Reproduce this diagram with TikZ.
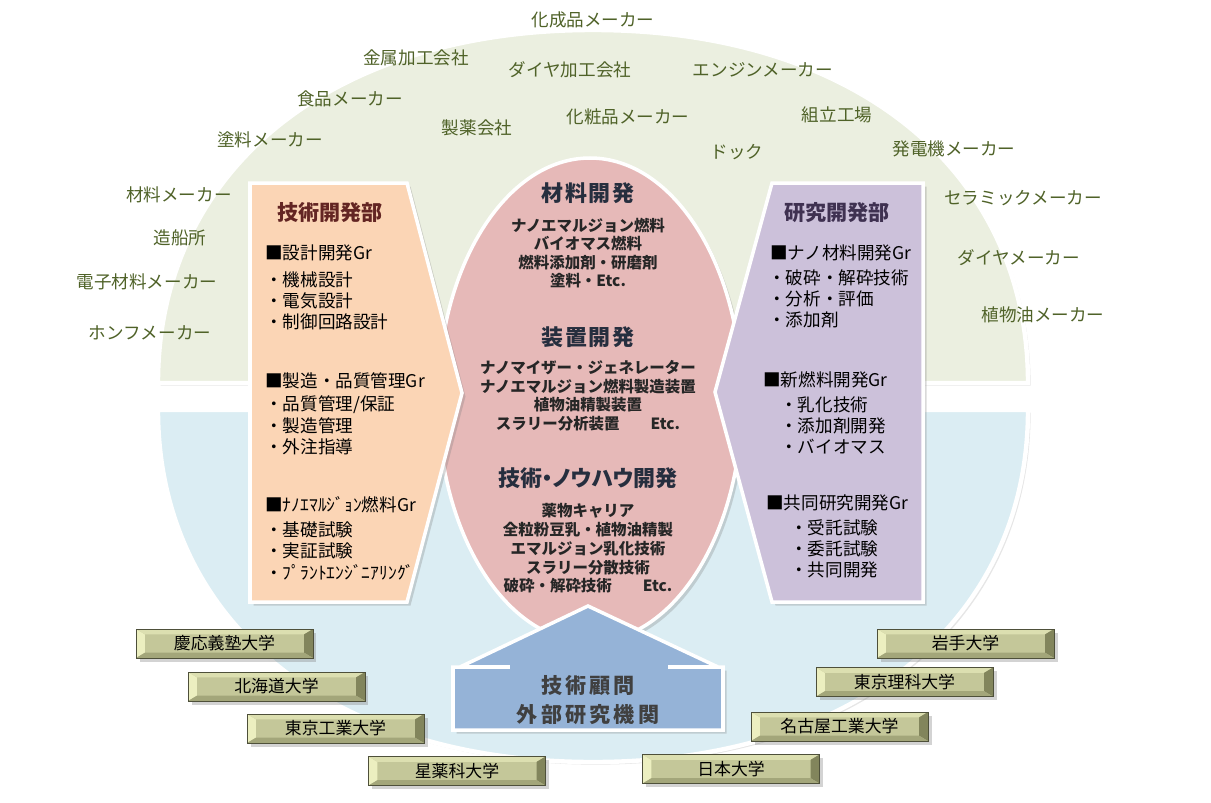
\documentclass[tikz,border=0pt]{standalone}
\usepackage{fontspec}
\setmainfont{Noto Sans CJK JP}
\usetikzlibrary{shadows}

\definecolor{upperfill}{RGB}{235,239,224}
\definecolor{lowerfill}{RGB}{219,237,243}
\definecolor{peach}{RGB}{251,213,181}
\definecolor{lavender}{RGB}{204,193,218}
\definecolor{rose}{RGB}{230,185,184}
\definecolor{houseblue}{RGB}{149,179,215}
\definecolor{makertext}{RGB}{79,98,40}
\definecolor{univfill}{RGB}{196,199,153}
\definecolor{univlight}{RGB}{236,239,192}
\definecolor{univdark}{RGB}{130,133,92}
\definecolor{univedge}{RGB}{78,80,58}
\definecolor{techtitle}{RGB}{99,37,35}
\definecolor{labtitle}{RGB}{63,49,81}
\definecolor{devtitle}{RGB}{38,46,62}

\tikzset{
  half/.style={draw=white, line width=2.5pt,
               drop shadow={shadow xshift=1.5pt, shadow yshift=-1.5pt, opacity=0.2}},
  panel/.style={draw=white, line width=2pt,
                drop shadow={shadow xshift=2pt, shadow yshift=-2pt, opacity=0.3}},
  maker/.style={font=\fontsize{10}{12}\selectfont, text=makertext, inner sep=1pt},
  dept/.style={font=\fontsize{12}{14}\selectfont\bfseries, inner sep=1pt},
  grp/.style={font=\fontsize{10}{12}\selectfont, anchor=west, inner sep=0pt},
  theme/.style={font={\fontsize{12.5}{14}\selectfont\bfseries\addfontfeature{LetterSpace=8}},
                text=devtitle, inner sep=1pt},
  topic/.style={font=\fontsize{8.8}{10}\selectfont\bfseries, text=black!85, inner sep=0pt},
  univ/.style={rectangle, draw=univedge, line width=0.5pt, fill=univfill,
               minimum width=3.54cm, minimum height=0.58cm, inner sep=0pt,
               font=\fontsize{9.6}{11}\selectfont,
               drop shadow={shadow xshift=2pt, shadow yshift=-2pt, opacity=0.35},
               path picture={
                 \fill[univlight] (path picture bounding box.north west)
                   -- (path picture bounding box.south west)
                   -- ([xshift=5pt,yshift=3pt]path picture bounding box.south west)
                   -- ([xshift=5pt,yshift=-3pt]path picture bounding box.north west) -- cycle;
                 \fill[univlight!60!univfill] (path picture bounding box.north west)
                   -- (path picture bounding box.north east)
                   -- ([xshift=-5pt,yshift=-3pt]path picture bounding box.north east)
                   -- ([xshift=5pt,yshift=-3pt]path picture bounding box.north west) -- cycle;
                 \fill[univdark] (path picture bounding box.north east)
                   -- (path picture bounding box.south east)
                   -- ([xshift=-5pt,yshift=3pt]path picture bounding box.south east)
                   -- ([xshift=-5pt,yshift=-3pt]path picture bounding box.north east) -- cycle;
                 \fill[univdark!50!univfill] (path picture bounding box.south west)
                   -- (path picture bounding box.south east)
                   -- ([xshift=-5pt,yshift=3pt]path picture bounding box.south east)
                   -- ([xshift=5pt,yshift=3pt]path picture bounding box.south west) -- cycle;
               }},
}

\begin{document}
\begin{tikzpicture}[x=0.02cm, y=-0.02cm]
  \useasboundingbox (0,0) rectangle (1211,802);

  % two halves of the round field
  \filldraw[half, fill=upperfill] (158,383) .. controls (158,173) and (328,30) .. (593,30)
    .. controls (858,30) and (1028,173) .. (1028,383) -- cycle;
  \filldraw[half, fill=lowerfill] (158,410) .. controls (158,619) and (328,762) .. (593,762)
    .. controls (858,762) and (1028,619) .. (1028,410) -- cycle;

  % customers
  \foreach \x/\y/\t [count=\i] in {593/20/化成品メーカー, 416/58/金属加工会社,
      570/70/ダイヤ加工会社, 763/70/エンジンメーカー, 350/99/食品メーカー,
      477/128/製薬会社, 628/117/化粧品メーカー, 837/115/組立工場, 737/152/ドック,
      270/140/塗料メーカー, 954/149/発電機メーカー, 179/195/材料メーカー,
      1023/198/セラミックメーカー, 180/238/造船所, 1019/258/ダイヤメーカー,
      147/282/電子材料メーカー, 1043/315/植物油メーカー, 150/333/ホンフメーカー}
    \node[maker] (mk\i) at (\x,\y) {\t};

  % centre, departments, advisors
  \filldraw[panel, fill=rose] (590,400) ellipse [x radius=152, y radius=242];
  \filldraw[panel, fill=peach] (250,183) -- (407,183) -- (462,393) -- (407,602)
    -- (250,602) -- cycle;
  \filldraw[panel, fill=lavender] (715,392) -- (772,183) -- (923,183) -- (923,602)
    -- (772,602) -- cycle;
  \filldraw[panel, fill=houseblue] (453,730) -- (453,667) -- (460,667) -- (588,606)
    -- (718,667) -- (723,667) -- (723,730) -- cycle;
  \draw[white, line width=2pt] (460,667) -- (510,667) (668,667) -- (718,667);

  % 技術開発部
  \node[dept, text=techtitle] (tech) at (330,213) {技術開発部};
  \node[grp] (tg1) at (265,253) {■設計開発Gr};
  \foreach \t [count=\i] in {機械設計,電気設計,制御回路設計}
    \node[grp] (tg1-\i) at (265,259+21*\i) {・\t};
  \node[grp] (tg2) at (265,381) {■製造・品質管理Gr};
  \foreach \t [count=\i] in {品質管理/保証,製造管理,外注指導}
    \node[grp] (tg2-\i) at (265,384+21*\i) {・\t};
  \node[grp] (tg3) at (265,505) {■ﾅﾉｴﾏﾙｼﾞｮﾝ燃料Gr};
  \foreach \t [count=\i] in {基礎試験,実証試験,ﾌﾟﾗﾝﾄｴﾝｼﾞﾆｱﾘﾝｸﾞ}
    \node[grp] (tg3-\i) at (265,509+21*\i) {・\t};

  % 研究開発部
  \node[dept, text=labtitle] (lab) at (837,213) {研究開発部};
  \node[grp] (rg1) at (770,253) {■ナノ材料開発Gr};
  \foreach \t [count=\i] in {破砕・解砕技術,分析・評価,添加剤}
    \node[grp] (rg1-\i) at (768,257+21*\i) {・\t};
  \node[grp] (rg2) at (763,380) {■新燃料開発Gr};
  \foreach \t [count=\i] in {乳化技術,添加剤開発,バイオマス}
    \node[grp] (rg2-\i) at (780,384+21*\i) {・\t};
  \node[grp] (rg3) at (766,503) {■共同研究開発Gr};
  \foreach \t [count=\i] in {受託試験,委託試験,共同開発}
    \node[grp] (rg3-\i) at (790,507+21*\i) {・\t};

  % development themes
  \node[theme] (mat) at (588,193) {材料開発};
  \foreach \t [count=\i] in {ナノエマルジョン燃料,バイオマス燃料,燃料添加剤・研磨剤,塗料・Etc.}
    \node[topic] (mat-\i) at (588,207+18.4*\i) {\t};
  \node[theme] (dev) at (588,337) {装置開発};
  \foreach \t [count=\i] in {ナノマイザー・ジェネレーター,ナノエマルジョン燃料製造装置,
      植物油精製装置,スラリー分析装置　　Etc.}
    \node[topic] (dev-\i) at (588,349+18.6*\i) {\t};
  \node[theme, font={\fontsize{12.5}{14}\selectfont\bfseries\addfontfeature{RawFeature=+palt}}]
    (know) at (588,478) {技術・ノウハウ開発};
  \foreach \t [count=\i] in {薬物キャリア,全粒粉豆乳・植物油精製,エマルジョン乳化技術,
      スラリー分散技術,破砕・解砕技術　　Etc.}
    \node[topic] (know-\i) at (588,492.5+18.7*\i) {\t};

  \node[font={\fontsize{12}{16.5}\selectfont\bfseries\addfontfeature{LetterSpace=15}},
        text=black!75, align=center, inner sep=0pt] (advisor) at (588,700)
    {技術顧問\\外部研究機関};

  % universities
  \node[univ] (keio) at (224.5,643.5) {慶応義塾大学};
  \node[univ] (hokudai) at (276.5,686.5) {北海道大学};
  \node[univ] (tokodai) at (335.5,728.5) {東京工業大学};
  \node[univ] (hoshi) at (457,771) {星薬科大学};
  \node[univ] (iwate) at (965.5,643.5) {岩手大学};
  \node[univ] (rika) at (904.5,682) {東京理科大学};
  \node[univ] (nitech) at (839.5,726.5) {名古屋工業大学};
  \node[univ] (nihon) at (731,769) {日本大学};
\end{tikzpicture}
\end{document}
